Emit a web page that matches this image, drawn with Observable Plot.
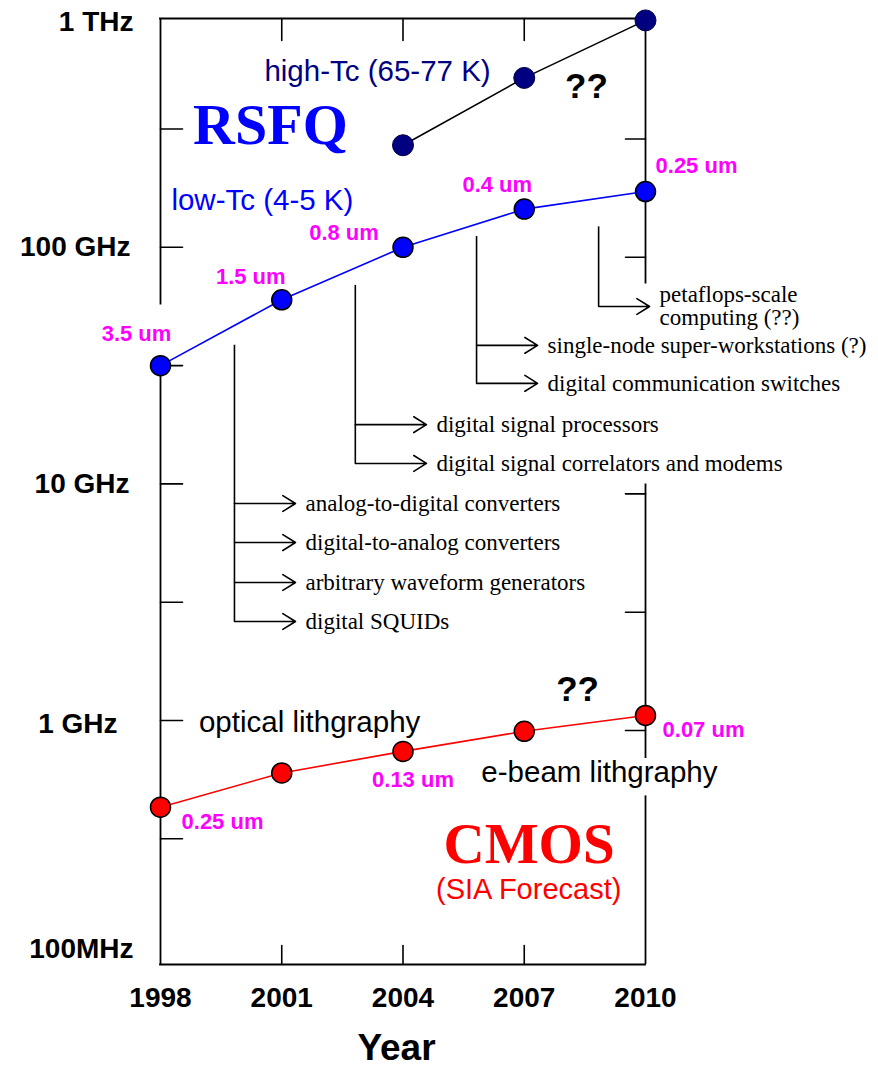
<!DOCTYPE html>
<html><head><meta charset="utf-8">
<script src="https://cdn.jsdelivr.net/npm/d3@7"></script>
<script src="https://cdn.jsdelivr.net/npm/@observablehq/plot@0.6"></script>
<style>html,body{margin:0;padding:0;background:#fff}#chart svg{display:block}</style>
</head><body><div id="chart"></div>
<script>
// ---------- data (frequencies in GHz) ----------
const years = [1998, 2001, 2004, 2007, 2010];
const lowTcGHz = [31.6, 60, 100, 145, 172];
const lowTcFeature = ["3.5 um", "1.5 um", "0.8 um", "0.4 um", "0.25 um"];
const highTcYears = [2004, 2007, 2010];
const highTcGHz = [270, 520, 910];
const cmosGHz = [0.43, 0.6, 0.74, 0.9, 1.05];
const cmosFeature = ["0.25 um", "", "0.13 um", "", "0.07 um"];

// axis extent and ticks
const yDomain = [0.093, 927];
const freqLabelGHz = [1000, 100, 10, 1, 0.1];
const freqLabels = ["1 THz", "100 GHz", "10 GHz", "1 GHz", "100MHz"];
const leftTickGHz = [316.2, 100, 31.62, 10, 3.162, 1, 0.3162];
const rightTickGHz = [316.2, 100, 10, 3.162, 1];
const innerYearTicks = [2001, 2004, 2007];
const leftAxisPieces = [[57, 927], [0.093, 34.9]];
const rightAxisPieces = [[70, 927], [0.69, 10], [0.093, 0.48]];

// applications (brackets)
const groupStemYear = [1999.83, 2002.82, 2005.82, 2008.84];
const groupTipYear = [2001.34, 2004.58, 2007.33, 2010.1];
const groupTopGHz = [38.5, 69, 111, 122];
const appLabels = ["analog-to-digital converters", "digital-to-analog converters", "arbitrary waveform generators", "digital SQUIDs",
  "digital signal processors", "digital signal correlators and modems",
  "single-node super-workstations (?)", "digital communication switches",
  "petaflops-scale\ncomputing (??)"];
const appGroup = [0, 0, 0, 0, 1, 1, 2, 2, 3];
const appGHz = [8.26, 5.65, 3.83, 2.62, 17.8, 12.2, 38.5, 26.6, 56.2];

// text notes
const noteText = ["RSFQ", "high-Tc (65-77 K)", "low-Tc (4-5 K)", "??", "??", "optical lithgraphy", "e-beam lithgraphy", "CMOS", "(SIA Forecast)"];
const noteYear = [2000.72, 2003.37, 2000.52, 2008.54, 2008.32, 2001.69, 2008.86, 2007.12, 2007.11];
const noteGHz = [326, 555, 157, 479, 1.346, 0.977, 0.6, 0.297, 0.193];

// ---------- build ----------
const SANS = "Liberation Sans, Arial, Helvetica, sans-serif";
const SERIF = "Liberation Serif, Times New Roman, Times, serif";
const MAGENTA = "#ff00ff";

const lowTc = years.map((year, i) => ({year, ghz: lowTcGHz[i], feature: lowTcFeature[i]}));
const highTc = highTcYears.map((year, i) => ({year, ghz: highTcGHz[i]}));
const cmos = years.map((year, i) => ({year, ghz: cmosGHz[i], feature: cmosFeature[i]}));
const groups = groupStemYear.map((x, g) => ({
  x, tip: groupTipYear[g], top: groupTopGHz[g],
  bottom: d3.min(appGHz.filter((v, i) => appGroup[i] === g))
}));
const apps = appLabels.map((label, i) => ({label, ghz: appGHz[i], stem: groupStemYear[appGroup[i]], tip: groupTipYear[appGroup[i]]}));
const notes = noteText.map((text, i) => ({text, year: noteYear[i], ghz: noteGHz[i]}));

const tickShape = {draw(ctx, l) { ctx.moveTo(0, 0); ctx.lineTo(0, -l); }};

// layout offsets for labels (px)
const lowTcLabelOffset = [[-24, -32], [-31, -23], [-59, -14], [-27, -24], [51, -26]];
const cmosLabelOffset = [[62, 15], null, [10, 29], null, [58, 15]];
const freqLabelOffset = [[-27, 11], [-30, 0], [-31, 0], [-43, 4], [-27, -8.5]];

const noteStyle = [
  {fontFamily: SERIF, fontSize: 58, fontWeight: "bold", fill: "#0000ff"},
  {fontFamily: SANS, fontSize: 29.5, fill: "#000080"},
  {fontFamily: SANS, fontSize: 29.5, fill: "#0000ff"},
  {fontFamily: SANS, fontSize: 35, fontWeight: "bold", fill: "black"},
  {fontFamily: SANS, fontSize: 35, fontWeight: "bold", fill: "black"},
  {fontFamily: SANS, fontSize: 29.5, fill: "black"},
  {fontFamily: SANS, fontSize: 29.5, fill: "black"},
  {fontFamily: SERIF, fontSize: 57, fontWeight: "bold", fill: "#ff0000"},
  {fontFamily: SANS, fontSize: 29, fill: "#ff0000"}
];

const axisW = 1.8;

const chart = Plot.plot({
  width: 878,
  height: 1068,
  marginLeft: 160,
  marginRight: 233,
  marginTop: 18,
  marginBottom: 104,
  style: {fontFamily: SANS, background: "white", color: "black"},
  x: {domain: [1998, 2010], axis: null},
  y: {type: "log", domain: yDomain, axis: null},
  marks: [
    // frame
    Plot.ruleY([yDomain[1]], {strokeWidth: axisW, strokeLinecap: "square"}),
    Plot.ruleY([yDomain[0]], {strokeWidth: axisW, strokeLinecap: "square"}),
    Plot.ruleX(leftAxisPieces, {x: 1998, y1: d => d[0], y2: d => d[1], strokeWidth: axisW}),
    Plot.ruleX(rightAxisPieces, {x: 2010, y1: d => d[0], y2: d => d[1], strokeWidth: axisW}),
    // inward ticks
    Plot.vector(leftTickGHz, {y: d => d, frameAnchor: "left", rotate: 90, length: 22, anchor: "start", shape: tickShape, strokeWidth: 1.6}),
    Plot.vector(rightTickGHz, {y: d => d, frameAnchor: "right", rotate: -90, length: 20, anchor: "start", shape: tickShape, strokeWidth: 1.6, dy: 10}),
    Plot.vector(innerYearTicks, {x: d => d, frameAnchor: "top", rotate: 180, length: 22, anchor: "start", shape: tickShape, strokeWidth: 1.6}),
    Plot.vector(innerYearTicks, {x: d => d, frameAnchor: "bottom", rotate: 0, length: 19, anchor: "start", shape: tickShape, strokeWidth: 1.6}),
    // tick labels
    ...freqLabels.map((label, i) => Plot.text([label], {
      y: () => freqLabelGHz[i], text: d => d, frameAnchor: "left", textAnchor: "end", lineAnchor: "middle",
      dx: freqLabelOffset[i][0], dy: freqLabelOffset[i][1], fontSize: 28, fontWeight: "bold"
    })),
    Plot.text(years, {x: d => d, text: d => String(d), frameAnchor: "bottom", lineAnchor: "middle", dy: 34, fontSize: 28, fontWeight: "bold"}),
    Plot.text(["Year"], {frameAnchor: "bottom", lineAnchor: "middle", dy: 84, dx: -6.5, fontSize: 37, fontWeight: "bold"}),
    // application brackets
    Plot.ruleX(groups, {x: "x", y1: "top", y2: "bottom", strokeWidth: 1.6}),
    Plot.arrow(apps, {x1: "stem", x2: "tip", y1: "ghz", y2: "ghz", headLength: 14, headAngle: 64, strokeWidth: 1.6}),
    Plot.text(apps, {x: "tip", y: "ghz", text: "label", dx: 10, textAnchor: "start", fontFamily: SERIF, fontSize: 23, lineHeight: 1, fill: "black"}),
    // series
    Plot.line(highTc, {x: "year", y: "ghz", stroke: "black", strokeWidth: 1.6}),
    Plot.dot(highTc, {x: "year", y: "ghz", r: 10.5, fill: "#000080", stroke: "#000040", strokeWidth: 1}),
    Plot.line(lowTc, {x: "year", y: "ghz", stroke: "#0000ff", strokeWidth: 1.6}),
    Plot.dot(lowTc, {x: "year", y: "ghz", r: 10, fill: "#0000ff", stroke: "black", strokeWidth: 1.5}),
    Plot.line(cmos, {x: "year", y: "ghz", stroke: "#ff0000", strokeWidth: 1.6}),
    Plot.dot(cmos, {x: "year", y: "ghz", r: 10, fill: "#ff0000", stroke: "black", strokeWidth: 1.5}),
    // feature-size labels
    ...lowTc.map((d, i) => Plot.text([d], {x: "year", y: "ghz", text: "feature", dx: lowTcLabelOffset[i][0], dy: lowTcLabelOffset[i][1], fill: MAGENTA, fontSize: 22, fontWeight: "bold"})),
    ...cmos.filter(d => d.feature).map(d => {
      const o = cmosLabelOffset[cmos.indexOf(d)];
      return Plot.text([d], {x: "year", y: "ghz", text: "feature", dx: o[0], dy: o[1], fill: MAGENTA, fontSize: 22, fontWeight: "bold"});
    }),
    // notes
    ...notes.map((n, i) => Plot.text([n], {x: "year", y: "ghz", text: "text", ...noteStyle[i]}))
  ]
});
document.getElementById("chart").appendChild(chart);
</script>
</body></html>
